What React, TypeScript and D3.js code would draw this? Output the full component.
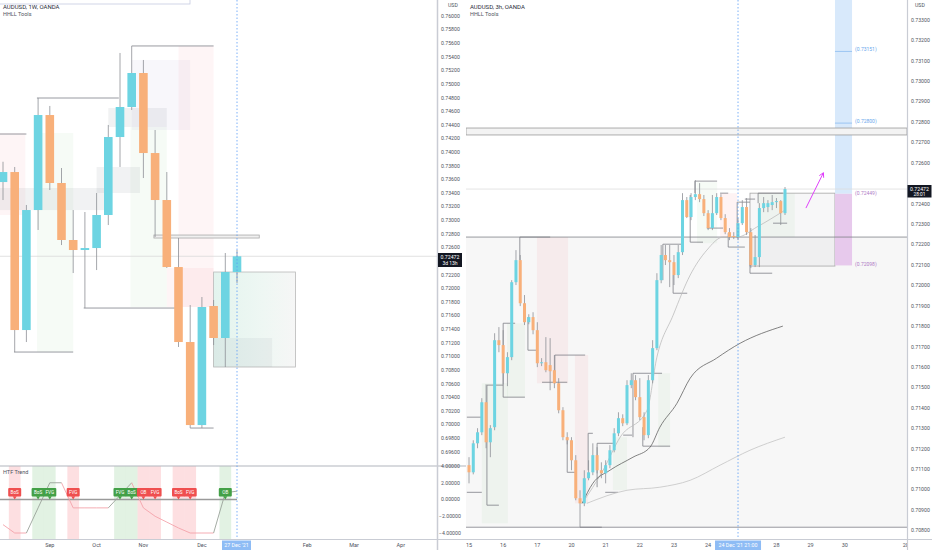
import React from 'react';
import * as d3 from 'd3';

type Bar = [number, number, number, number]; // open, high, low, close
type Pt = [number, number]; // bar index, price

const W = 932;
const H = 550;
const WEEK = 7 * 864e5;

// ---------- left chart: AUDUSD 1W ----------
const weeklyFirst = Date.UTC(2021, 7, 9);
const weeklyBars: Bar[] = [
  [0.73562, 0.73860, 0.73298, 0.73709],
  [0.73709, 0.73783, 0.71066, 0.71389],
  [0.71389, 0.73225, 0.71213, 0.73151],
  [0.73151, 0.74796, 0.72858, 0.74546],
  [0.74546, 0.74679, 0.73445, 0.73548],
  [0.73548, 0.73768, 0.72637, 0.72711],
  [0.72711, 0.73151, 0.72226, 0.72564],
  [0.72564, 0.73122, 0.71712, 0.72593],
  [0.72593, 0.73401, 0.72270, 0.73078],
  [0.73078, 0.74400, 0.72931, 0.74223],
  [0.74223, 0.75457, 0.73783, 0.74664],
  [0.74664, 0.75560, 0.74620, 0.75163],
  [0.75163, 0.75354, 0.73621, 0.73988],
  [0.73988, 0.74326, 0.72755, 0.73298],
  [0.73298, 0.73709, 0.72300, 0.72314],
  [0.72314, 0.72740, 0.71140, 0.71213],
  [0.71213, 0.71756, 0.69950, 0.69994],
  [0.69994, 0.71874, 0.69950, 0.71727],
  [0.71742, 0.71830, 0.71169, 0.71272],
  [0.71272, 0.72520, 0.70846, 0.72241],
  [0.72241, 0.72564, 0.72079, 0.72472],
];
const leftMonthTicks: [string, string][] = [
  ['2021-09-06', 'Sep'], ['2021-10-04', 'Oct'], ['2021-11-01', 'Nov'], ['2021-12-06', 'Dec'],
  ['2022-02-07', 'Feb'], ['2022-03-07', 'Mar'], ['2022-04-04', 'Apr'],
];
// zones: [fromWeek, toWeek, top, bottom]
const leftPinkZones = [[-0.3, 1.9, 0.74282, 0.73078], [15, 18, 0.75560, 0.71727], [14, 18, 0.72300, 0.71727]];
const leftGreenZones = [[2.9, 6, 0.74282, 0.71066], [10.9, 14, 0.74370, 0.71727]];
const leftGrayZones = [[-0.3, 9.1, 0.73474, 0.73151], [9, 14, 0.74649, 0.74370], [8, 11.7, 0.73783, 0.73401]];
const leftLavenderZones = [[11, 16, 0.75354, 0.74326]];
const leftSwings: Pt[][] = [
  [[11, 0.75560], [18, 0.75560]],
  [[2.9, 0.74796], [9.9, 0.74796]],
  [[-0.3, 0.74267], [2, 0.74267]],
  [[0.94, 0.71066], [6, 0.71066]],
  [[6.9, 0.71712], [14.7, 0.71712]],
  [[16, 0.69950], [18, 0.69950]],
];
const leftBand = [12.9, 21.9, 0.72784, 0.72740];
const leftBox = [18, 25, 0.72241, 0.70846];
const leftBoxInner = [18, 23, 0.71272, 0.70846];
const lastPrice = 0.72472;

// HTF trend sub pane
const trendValues = [-3, -4, -4, -1, 2, 2, -1, -1, -1, -1, 0.5, 2, -1, -2, -2.7, -3.4, -4, -4, -4, 0.8, 1];
const trendBadges: { week: number; text: string; bull: boolean }[] = [
  { week: 1, text: 'BoS', bull: false },
  { week: 3, text: 'BoS', bull: true },
  { week: 4, text: 'FVG', bull: true },
  { week: 6, text: 'FVG', bull: false },
  { week: 10, text: 'FVG', bull: true },
  { week: 11, text: 'BoS', bull: true },
  { week: 12, text: 'OB', bull: false },
  { week: 13, text: 'FVG', bull: false },
  { week: 15, text: 'BoS', bull: false },
  { week: 16, text: 'FVG', bull: false },
  { week: 19, text: 'OB', bull: true },
];
const subTicks = [4, 2, 0, -2, -4];

// ---------- right chart: AUDUSD 3h ----------
const bars3h: Bar[] = [
  [0.71120, 0.71159, 0.71031, 0.71085], [0.71085, 0.71242, 0.71075, 0.71227],
  [0.71227, 0.71301, 0.71203, 0.71281], [0.71281, 0.71448, 0.71267, 0.71428],
  [0.71428, 0.71516, 0.71203, 0.71232], [0.71232, 0.71316, 0.71159, 0.71301],
  [0.71306, 0.71766, 0.71291, 0.71732], [0.71732, 0.71796, 0.71673, 0.71708],
  [0.71708, 0.71781, 0.71516, 0.71570], [0.71570, 0.71673, 0.71507, 0.71649],
  [0.71649, 0.72026, 0.71634, 0.72016], [0.72016, 0.72173, 0.72002, 0.72124],
  [0.72124, 0.72149, 0.71899, 0.71913], [0.71913, 0.71953, 0.71806, 0.71820],
  [0.71820, 0.71859, 0.71810, 0.71845], [0.71845, 0.71869, 0.71761, 0.71781],
  [0.71781, 0.71820, 0.71600, 0.71619], [0.71619, 0.71644, 0.71605, 0.71624],
  [0.71624, 0.71747, 0.71575, 0.71585], [0.71610, 0.71742, 0.71487, 0.71580],
  [0.71585, 0.71659, 0.71497, 0.71521], [0.71521, 0.71546, 0.71374, 0.71389],
  [0.71389, 0.71404, 0.71242, 0.71257], [0.71257, 0.71281, 0.71222, 0.71242],
  [0.71242, 0.71257, 0.71095, 0.71144], [0.71144, 0.71169, 0.70948, 0.70958],
  [0.70958, 0.70997, 0.70816, 0.70933], [0.70933, 0.71095, 0.70919, 0.71056],
  [0.71056, 0.71144, 0.71046, 0.71085], [0.71085, 0.71227, 0.71071, 0.71169],
  [0.71169, 0.71208, 0.71080, 0.71095], [0.71095, 0.71134, 0.71056, 0.71080],
  [0.71080, 0.71144, 0.71031, 0.71120], [0.71120, 0.71218, 0.71105, 0.71193],
  [0.71193, 0.71301, 0.71183, 0.71276], [0.71276, 0.71379, 0.71262, 0.71350],
  [0.71350, 0.71369, 0.71311, 0.71325], [0.71325, 0.71536, 0.71316, 0.71512],
  [0.71512, 0.71570, 0.71497, 0.71536], [0.71536, 0.71561, 0.71438, 0.71453],
  [0.71453, 0.71546, 0.71340, 0.71355], [0.71355, 0.71379, 0.71242, 0.71267],
  [0.71267, 0.71561, 0.71252, 0.71536], [0.71536, 0.71732, 0.71521, 0.71693],
  [0.71693, 0.72060, 0.71683, 0.72026], [0.72026, 0.72198, 0.72011, 0.72149],
  [0.72149, 0.72198, 0.72100, 0.72124], [0.72124, 0.72198, 0.71992, 0.72114],
  [0.72114, 0.72149, 0.72002, 0.72051], [0.72051, 0.72198, 0.72036, 0.72163],
  [0.72163, 0.72452, 0.72149, 0.72418], [0.72418, 0.72433, 0.72330, 0.72335],
  [0.72335, 0.72452, 0.72320, 0.72433], [0.72433, 0.72516, 0.72418, 0.72447],
  [0.72447, 0.72501, 0.72408, 0.72423], [0.72423, 0.72443, 0.72340, 0.72354],
  [0.72354, 0.72369, 0.72271, 0.72281], [0.72281, 0.72443, 0.72271, 0.72354],
  [0.72354, 0.72452, 0.72345, 0.72433], [0.72433, 0.72447, 0.72320, 0.72330],
  [0.72330, 0.72349, 0.72251, 0.72261], [0.72261, 0.72281, 0.72222, 0.72237],
  [0.72242, 0.72261, 0.72227, 0.72237], [0.72237, 0.72330, 0.72222, 0.72305],
  [0.72305, 0.72418, 0.72296, 0.72384], [0.72384, 0.72428, 0.72247, 0.72261],
  [0.72261, 0.72281, 0.72085, 0.72100], [0.72100, 0.72247, 0.72090, 0.72139],
  [0.72139, 0.72403, 0.72090, 0.72379], [0.72379, 0.72433, 0.72359, 0.72403],
  [0.72384, 0.72418, 0.72359, 0.72403], [0.72394, 0.72443, 0.72369, 0.72408],
  [0.72408, 0.72428, 0.72379, 0.72413], [0.72413, 0.72418, 0.72296, 0.72354],
  [0.72354, 0.72482, 0.72345, 0.72472],
];
const dayTicks: [number, string][] = [
  [0, '15'], [8, '16'], [16, '17'], [24, '20'], [32, '21'], [40, '22'], [48, '23'], [56, '24'],
  [72, '28'], [80, '29'], [88, '30'], [103, '2022'],
];
const vwapFast: Pt[] = [[26.5, 0.70933], [31.4, 0.71095], [35.4, 0.71257], [41.7, 0.71389], [44, 0.71649],
  [47.8, 0.71854], [51.8, 0.72051], [55.7, 0.72173], [59.5, 0.72237], [62.8, 0.72237], [67.4, 0.72286], [74, 0.72369]];
const vwapMid: Pt[] = [[26.5, 0.70933], [29, 0.71031], [33, 0.71095], [38.4, 0.71159], [42.4, 0.71208],
  [44.7, 0.71306], [48.7, 0.71423], [51.8, 0.71546], [58, 0.71644], [63.5, 0.71717], [73.5, 0.71801]];
const vwapSlow: Pt[] = [[27.6, 0.70933], [37, 0.70997], [44.7, 0.71012], [51.8, 0.71046], [58.8, 0.71120],
  [65.8, 0.71193], [74, 0.71257]];
const rightSwings: Pt[][] = [
  [[-0.5, 0.71355], [3, 0.71355]],
  [[-0.5, 0.70987], [3, 0.70987]],
  [[8, 0.71512], [4.2, 0.71512], [4.2, 0.70924], [7, 0.70924]],
  [[10.8, 0.71815], [8, 0.71815], [8, 0.71453], [13.1, 0.71453]],
  [[19, 0.72237], [11.9, 0.72237], [11.9, 0.72124]],
  [[13.8, 0.71845], [13.8, 0.71683], [16.2, 0.71683]],
  [[27.2, 0.71659], [20.1, 0.71659], [20.1, 0.71521]],
  [[17.1, 0.71526], [23, 0.71526]],
  [[23, 0.71257], [23, 0.71085], [24.8, 0.71085]],
  [[26, 0.70816], [31.1, 0.70816]],
  [[29, 0.71276], [27.9, 0.71276], [27.9, 0.71095]],
  [[33.7, 0.71227], [30, 0.71227], [30, 0.71012]],
  [[31.9, 0.70987], [34.9, 0.70987]],
  [[45.2, 0.71570], [38.4, 0.71570], [38.4, 0.71257]],
  [[36.1, 0.71267], [38.2, 0.71267]],
  [[40.7, 0.71306], [40.7, 0.71213], [47.1, 0.71213]],
  [[49.9, 0.72202], [45.4, 0.72202], [45.4, 0.72026]],
  [[47.8, 0.72051], [47.8, 0.71962], [51.1, 0.71962]],
  [[52.9, 0.72452], [52.9, 0.72511], [58.1, 0.72511]],
  [[51.8, 0.72443], [51.8, 0.72212], [54.8, 0.72212]],
  [[55.7, 0.72281], [59.5, 0.72281]],
  [[58.8, 0.72452], [60.7, 0.72452]],
  [[60.7, 0.72256], [60.7, 0.72188], [64.6, 0.72188]],
  [[65.8, 0.72408], [62.8, 0.72408], [62.8, 0.72232]],
  [[64.6, 0.72423], [67, 0.72423]],
  [[65.8, 0.72261], [65.8, 0.72060], [71, 0.72060]],
  [[67.7, 0.72403], [67.7, 0.72452], [73.5, 0.72452]],
  [[71.2, 0.72305], [74.5, 0.72305]],
];
const rightPinkZones = [[15.9, 23.2, 0.72237, 0.71521], [24.8, 27.9, 0.71659, 0.70933], [58.8, 62.8, 0.72452, 0.72232]];
const rightGreenZones = [[3, 9.1, 0.71521, 0.70835], [8.9, 13.1, 0.71815, 0.71453], [33.7, 37, 0.71257, 0.70997],
  [44.3, 47.1, 0.71570, 0.71208], [53.4, 58.1, 0.72506, 0.72207], [67.7, 76.3, 0.72452, 0.72237]];
const rangeBand = [0.72237, 0.70816];
const upperBand = [0.72771, 0.72737];
const targetBox = [65.8, 85.7, 0.72452, 0.72095];
const projCols = [85.7, 89.7];
const projLevels = [0.73151, 0.72800, 0.72449, 0.72098];
const arrowPts: Pt[] = [[78.9, 0.72379], [83, 0.72552]];

const UP = '#6dd4e2';
const DOWN = '#f8b07a';
const WICK = '#8d8f96';
const TXT = '#50535e';
const FONT = 'Roboto, "Liberation Sans", sans-serif';
const f5 = d3.format('.5f');

export default function App() {
  const weekDate = (i: number) => new Date(weeklyFirst + i * WEEK);
  const xL = d3.scaleUtc().domain([weekDate(0), weekDate(20)]).range([3, 237]);
  const xw = (i: number) => xL(weekDate(i));
  const yL = d3.scaleLinear().domain([0.694, 0.76]).range([465.5, 16]);
  const yS = d3.scaleLinear().domain([-4, 4]).range([533, 466]);
  const xR = d3.scaleLinear().domain([0, 74]).range([469, 785]);
  const yR = d3.scaleLinear().domain([0.708, 0.733]).range([530.5, 20]);

  const lineL = d3.line<Pt>().x(d => xw(d[0])).y(d => yL(d[1]));
  const lineR = d3.line<Pt>().x(d => xR(d[0])).y(d => yR(d[1]));
  const smoothR = d3.line<Pt>().x(d => xR(d[0])).y(d => yR(d[1])).curve(d3.curveMonotoneX);

  // axis ticks, leaving out the ones hidden under the last-price labels / sub pane scale
  const leftPriceTicks = d3.range(1, 34).map(k => 0.694 + k * 0.002)
    .filter(p => Math.abs(yL(p) - yL(lastPrice)) > 8);
  const rightPriceTicks = d3.range(0, 26).map(k => 0.708 + k * 0.001)
    .filter(p => Math.abs(yR(p) - yR(lastPrice)) > 8);

  const zoneL = (z: number[], fill: string, key: string) => (
    <rect key={key} x={xw(z[0])} y={yL(z[2])} width={xw(z[1]) - xw(z[0])} height={yL(z[3]) - yL(z[2])} fill={fill} />
  );
  const zoneR = (z: number[], fill: string, key: string) => (
    <rect key={key} x={xR(z[0])} y={yR(z[2])} width={xR(z[1]) - xR(z[0])} height={yR(z[3]) - yR(z[2])} fill={fill} />
  );

  const candles = (bars: Bar[], x: (i: number) => number, y: (p: number) => number, w: number) =>
    bars.map((b, i) => {
      const [o, h, l, c] = b;
      const cx = x(i);
      const top = y(Math.max(o, c));
      const bot = y(Math.min(o, c));
      return (
        <g key={i}>
          <line x1={cx} x2={cx} y1={y(h)} y2={y(l)} stroke={WICK} strokeWidth={0.8} />
          <rect x={cx - w / 2} y={top} width={w} height={Math.max(1, bot - top)} fill={c >= o ? UP : DOWN} />
        </g>
      );
    });

  // trend line segments coloured by direction
  const trendSegs: { x1: number; y1: number; x2: number; y2: number; col: string }[] = [];
  let lastCol = '#f4a3aa';
  for (let i = 1; i < trendValues.length; i++) {
    const a = trendValues[i - 1], b = trendValues[i];
    if (b > a) lastCol = '#9aa39a';
    else if (b < a) lastCol = '#f4a3aa';
    trendSegs.push({ x1: xw(i - 1), y1: yS(a), x2: xw(i), y2: yS(b), col: lastCol });
  }

  const ar0 = [xR(arrowPts[0][0]), yR(arrowPts[0][1])];
  const ar1 = [xR(arrowPts[1][0]), yR(arrowPts[1][1])];
  const ang = Math.atan2(ar1[1] - ar0[1], ar1[0] - ar0[0]);
  const head = (da: number) => [ar1[0] - 5 * Math.cos(ang + da), ar1[1] - 5 * Math.sin(ang + da)];
  const h1 = head(0.5), h2 = head(-0.5);

  const crossL = xw(20);
  const crossR = xR(63);

  return (
    <svg width={W} height={H} style={{ position: 'absolute', left: 0, top: 0, background: '#fff' }} fontFamily={FONT}>
      <defs>
        <clipPath id="lp"><rect x={0} y={0} width={437} height={466} /></clipPath>
        <clipPath id="sp"><rect x={0} y={466} width={437} height={73} /></clipPath>
        <clipPath id="rp"><rect x={466} y={0} width={441} height={539} /></clipPath>
        <clipPath id="rx"><rect x={466} y={539} width={441} height={11} /></clipPath>
        <linearGradient id="boxg" x1="0" x2="1" y1="0" y2="0">
          <stop offset="0" stopColor="#e3f4ee" />
          <stop offset="0.6" stopColor="#eef7f3" />
          <stop offset="1" stopColor="#f6f6f6" />
        </linearGradient>
      </defs>
      <rect x={0} y={0} width={W} height={H} fill="#fff" />

      {/* ---------- left main pane ---------- */}
      <g clipPath="url(#lp)">
        {leftPinkZones.map((z, i) => zoneL(z, 'rgba(242,54,69,0.05)', 'lpz' + i))}
        {leftGreenZones.map((z, i) => zoneL(z, 'rgba(76,175,80,0.05)', 'lgz' + i))}
        {leftLavenderZones.map((z, i) => zoneL(z, 'rgba(120,100,170,0.05)', 'llz' + i))}
        {leftGrayZones.map((z, i) => zoneL(z, 'rgba(120,123,134,0.1)', 'lyz' + i))}
        <rect x={xw(leftBox[0])} y={yL(leftBox[2])} width={xw(leftBox[1]) - xw(leftBox[0])}
          height={yL(leftBox[3]) - yL(leftBox[2])} fill="url(#boxg)" stroke="#b8b8b8" strokeWidth={0.8} />
        {zoneL(leftBoxInner, 'rgba(120,123,134,0.08)', 'lbi')}
        <rect x={xw(leftBand[0])} y={yL(leftBand[2])} width={xw(leftBand[1]) - xw(leftBand[0])}
          height={yL(leftBand[3]) - yL(leftBand[2])} fill="#f0f0f0" stroke="#a9a9a9" strokeWidth={0.8} />
        {leftSwings.map((s, i) => (
          <path key={'ls' + i} d={lineL(s) || ''} fill="none" stroke="#8d8f96" strokeWidth={0.9} />
        ))}
        <line x1={0} x2={437} y1={yL(lastPrice)} y2={yL(lastPrice)} stroke="#d9d9d9" strokeWidth={0.8} />
        {candles(weeklyBars, xw, yL, 8.6)}
      </g>
      <rect x={-1} y={-1} width={191} height={5} fill="#fff" stroke="#c5cbe0" strokeWidth={0.8} />
      <text x={3} y={8.5} fontSize={6} fill="#2a2e39">AUDUSD, 1W, OANDA</text>
      <text x={3} y={15.5} fontSize={5.5} fill={TXT}>HHLL Tools</text>

      {/* ---------- HTF trend sub pane ---------- */}
      <g clipPath="url(#sp)">
        {trendBadges.map((b, i) => (
          <rect key={'tb' + i} x={xw(b.week - 0.5)} y={466} width={xw(b.week + 0.5) - xw(b.week - 0.5)} height={73}
            fill={b.bull ? 'rgba(76,175,80,0.16)' : 'rgba(242,54,69,0.16)'} />
        ))}
        <line x1={0} x2={crossL} y1={yS(0)} y2={yS(0)} stroke="#9a9a9a" strokeWidth={1.6} />
        {trendSegs.map((s, i) => (
          <line key={'ts' + i} x1={s.x1} y1={s.y1} x2={s.x2} y2={s.y2} stroke={s.col} strokeWidth={0.9} />
        ))}
        {trendBadges.map((b, i) => {
          const cx = xw(b.week);
          const col = b.bull ? '#43a047' : '#ef4f4f';
          return (
            <g key={'bd' + i}>
              <rect x={cx - 6.5} y={488} width={13} height={8.5} rx={1} fill={col} />
              <path d={`M${cx - 2},496.3 L${cx + 2},496.3 L${cx},499.5 Z`} fill={col} />
              <text x={cx} y={494.2} fontSize={4.6} fill="#fff" textAnchor="middle">{b.text}</text>
            </g>
          );
        })}
        <text x={3} y={474} fontSize={5.5} fill={TXT}>HTF Trend</text>
      </g>
      <line x1={0} x2={466} y1={466} y2={466} stroke="#b2b5be" strokeWidth={1.2} />

      {/* left crosshair */}
      <line x1={crossL} x2={crossL} y1={0} y2={539} stroke="#5b9cf6" strokeWidth={0.8} strokeDasharray="1.5,2" />

      {/* left price axis */}
      <line x1={437.5} x2={437.5} y1={0} y2={H} stroke="#c9ccd4" strokeWidth={1.5} />
      <text x={448} y={6.5} fontSize={5.2} fill={TXT}>USD</text>
      {leftPriceTicks.map((p, i) => (
        <text key={'lpt' + i} x={441} y={yL(p) + 1.8} fontSize={5.2} fill={TXT}>{f5(p)}</text>
      ))}
      {subTicks.map((v, i) => (
        <text key={'st' + i} x={v < 0 ? 439 : 441} y={yS(v) + 1.8} fontSize={5.2} fill={TXT}>{f5(v)}</text>
      ))}
      <rect x={438} y={253} width={24} height={14} fill="#131722" />
      <text x={450} y={259} fontSize={5.2} fill="#fff" textAnchor="middle">{f5(lastPrice)}</text>
      <text x={450} y={265.3} fontSize={5} fill="#fff" textAnchor="middle">3d 13h</text>

      {/* ---------- right pane ---------- */}
      <g clipPath="url(#rp)">
        <rect x={466} y={yR(rangeBand[0])} width={441} height={yR(rangeBand[1]) - yR(rangeBand[0])} fill="#f7f7f7" />
        {rightPinkZones.map((z, i) => zoneR(z, 'rgba(242,54,69,0.06)', 'rpz' + i))}
        {rightGreenZones.map((z, i) => zoneR(z, 'rgba(76,175,80,0.05)', 'rgz' + i))}
        <rect x={xR(targetBox[0])} y={yR(targetBox[2])} width={xR(targetBox[1]) - xR(targetBox[0])}
          height={yR(targetBox[3]) - yR(targetBox[2])} fill="rgba(120,123,134,0.06)" stroke="#a6a6a6" strokeWidth={0.8} />
        <rect x={xR(projCols[0])} y={0} width={xR(projCols[1]) - xR(projCols[0])} height={yR(projLevels[2])}
          fill="#d8e9fb" />
        <rect x={xR(projCols[0])} y={yR(projLevels[2])} width={xR(projCols[1]) - xR(projCols[0])}
          height={yR(projLevels[3]) - yR(projLevels[2])} fill="#e7c9ec" />
        {projLevels.map((p, i) => (
          <g key={'pl' + i}>
            {i < 2 && <line x1={xR(projCols[0])} x2={xR(projCols[1])} y1={yR(p) + 1} y2={yR(p) + 1} stroke="#8cbcf0" strokeWidth={0.8} />}
            <text x={xR(projCols[1]) + 3} y={yR(p) + 1} fontSize={5} fill={i < 2 ? '#6aa8ec' : '#b07cc6'}>({f5(p)})</text>
          </g>
        ))}
        <rect x={466} y={yR(upperBand[0])} width={441} height={yR(upperBand[1]) - yR(upperBand[0])}
          fill="#f3f3f3" stroke="#9a9a9a" strokeWidth={0.8} />
        <line x1={466} x2={907} y1={yR(rangeBand[0])} y2={yR(rangeBand[0])} stroke="#7d7f86" strokeWidth={0.8} />
        <line x1={466} x2={907} y1={yR(rangeBand[1])} y2={yR(rangeBand[1])} stroke="#7d7f86" strokeWidth={0.8} />
        <line x1={466} x2={907} y1={yR(lastPrice)} y2={yR(lastPrice)} stroke="#dcdcdc" strokeWidth={0.8} />
        {rightSwings.map((s, i) => (
          <path key={'rs' + i} d={lineR(s) || ''} fill="none" stroke="#7d7f86" strokeWidth={0.8} />
        ))}
        <path d={smoothR(vwapSlow) || ''} fill="none" stroke="#c4c4c4" strokeWidth={0.8} />
        <path d={smoothR(vwapFast) || ''} fill="none" stroke="#bdbdbd" strokeWidth={0.8} />
        <path d={smoothR(vwapMid) || ''} fill="none" stroke="#5a5a5a" strokeWidth={0.75} />
        {candles(bars3h, xR, yR, 3)}
        <line x1={ar0[0]} y1={ar0[1]} x2={ar1[0]} y2={ar1[1]} stroke="#e040fb" strokeWidth={1} />
        <polyline points={`${h1[0]},${h1[1]} ${ar1[0]},${ar1[1]} ${h2[0]},${h2[1]}`} fill="none" stroke="#e040fb" strokeWidth={1} />
        <line x1={crossR} x2={crossR} y1={0} y2={539} stroke="#5b9cf6" strokeWidth={0.8} strokeDasharray="1.5,2" />
      </g>
      <text x={470} y={8.5} fontSize={6} fill="#2a2e39">AUDUSD, 3h, OANDA</text>
      <text x={470} y={15.5} fontSize={5.5} fill={TXT}>HHLL Tools</text>

      {/* right price axis */}
      <line x1={907.5} x2={907.5} y1={0} y2={H} stroke="#c9ccd4" strokeWidth={1.2} />
      <text x={915} y={7} fontSize={5.2} fill={TXT}>USD</text>
      {rightPriceTicks.map((p, i) => (
        <text key={'rpt' + i} x={911} y={yR(p) + 1.8} fontSize={5.2} fill={TXT}>{f5(p)}</text>
      ))}
      <rect x={907.5} y={185} width={24} height={12.5} fill="#131722" />
      <text x={919.5} y={190.5} fontSize={5.2} fill="#fff" textAnchor="middle">{f5(lastPrice)}</text>
      <text x={919.5} y={196} fontSize={4.8} fill="#fff" textAnchor="middle">28:01</text>

      {/* time axes */}
      <line x1={0} x2={W} y1={539.5} y2={539.5} stroke="#c9ccd4" strokeWidth={1} />
      {leftMonthTicks.map(([d, label], i) => (
        <text key={'lmt' + i} x={xL(new Date(d + 'T00:00:00Z'))} y={547} fontSize={5.5} fill={TXT} textAnchor="middle">{label}</text>
      ))}
      <rect x={crossL - 15} y={540.5} width={29} height={9.5} fill="#8ebcf5" />
      <text x={crossL - 0.5} y={547.3} fontSize={5.3} fill="#fff" textAnchor="middle">27 Dec '21</text>

      <g clipPath="url(#rx)">
        {dayTicks.map(([i, label], k) => (
          <text key={'dt' + k} x={xR(i)} y={547} fontSize={5.5} fill={TXT} textAnchor="middle">{label}</text>
        ))}
      </g>
      <rect x={crossR - 23} y={540.5} width={46} height={9.5} fill="#8ebcf5" />
      <text x={crossR} y={547.3} fontSize={5.3} fill="#fff" textAnchor="middle">24 Dec '21  21:00</text>
    </svg>
  );
}
